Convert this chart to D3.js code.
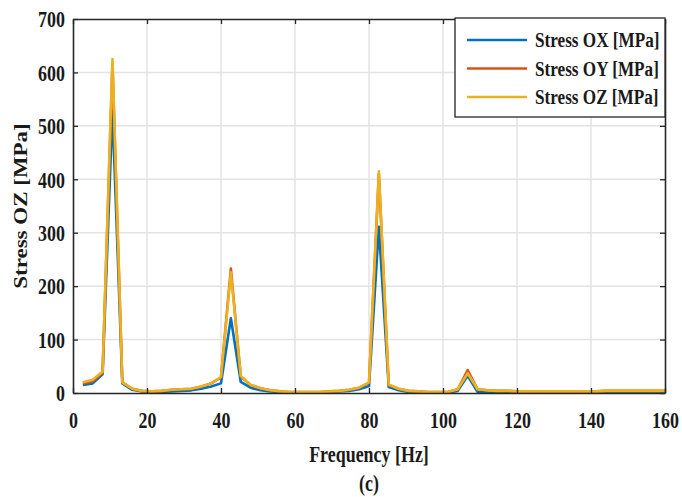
<!DOCTYPE html>
<html>
<head>
<meta charset="utf-8">
<script src="https://cdn.jsdelivr.net/npm/d3@7"></script>
<style>
html,body{margin:0;padding:0;background:#fff;}
svg{display:block;}
text{font-family:"Liberation Serif","Times New Roman",serif;font-weight:bold;fill:#1a1a1a;}
</style>
</head>
<body>
<svg id="chart" width="682" height="497"></svg>
<script>
// ---- data ----
const freqStep = 8 / 3; // Hz
const frequencies = d3.range(1, 61).map(k => k * freqStep);
const stressOX = [15,18,35,530,18,6,3,2,2,3,4,5,8,12,18,140,21,10,5,3,2,1.5,1.5,1.5,1.5,2,3,4,7,13,311,11,5,2,1.5,1,1,1,4,32,2,1,1,1,1,1,1,1,1,1,1,1,1,1.5,1.5,1.5,1.5,1.5,1.5,1.5];
const stressOY = [18,22,38,615,20,8,4,3,4,6,7,8,12,18,29,233,31,15,9,5,3,2,2,2,2,3,4,6,10,19,410,15,8,4,3,2,2,2,7,43,7,5,4,4,3,3,3,3,3,3,3,3,3,4,4,4,4,4,4,4];
const stressOZ = [20,25,40,625,20,8,4,3,4,6,7,8,12,18,30,226,32,15,9,5,3,2,2,2,2,3,4,6,10,20,415,16,8,4,3,2,2,2,7,37,7,5,4,4,3,3,3,3,3,3,3,3,3,4,4,4,4,4,4,4];
const seriesNames = ["Stress OX [MPa]","Stress OY [MPa]","Stress OZ [MPa]"];
const seriesColors = ["#0072BD","#D95319","#EDB120"];
const xTicks = [0,20,40,60,80,100,120,140,160];
const yTicks = [0,100,200,300,400,500,600,700];

// ---- layout ----
const svg = d3.select("#chart");
const L = 73, R = 665, T = 19, B = 393;
const SX = 0.78; // horizontal squeeze of the text
const FS = 23;
const x = d3.scaleLinear().domain([0,160]).range([L,R]);
const y = d3.scaleLinear().domain([0,700]).range([B,T]);

// grid
const grid = svg.append("g");
grid.selectAll("line.gx").data(xTicks.slice(1,-1)).join("line")
  .attr("x1", d => x(d)).attr("x2", d => x(d)).attr("y1", T).attr("y2", B)
  .attr("stroke", "#e3e3e3").attr("stroke-width", 1.5);
grid.selectAll("line.gy").data(yTicks.slice(1,-1)).join("line")
  .attr("y1", d => y(d)).attr("y2", d => y(d)).attr("x1", L).attr("x2", R)
  .attr("stroke", "#e3e3e3").attr("stroke-width", 1.5);

// lines
const line = d3.line().x(d => x(d[0])).y(d => y(d[1]));
[stressOX, stressOY, stressOZ].forEach((vals, i) => {
  svg.append("path")
    .datum(frequencies.map((f, j) => [f, vals[j]]))
    .attr("fill", "none")
    .attr("stroke", seriesColors[i])
    .attr("stroke-width", 2.6)
    .attr("stroke-linejoin", "round")
    .attr("d", line);
});

// axes (box with inward ticks)
function styleAxis(g) {
  g.select(".domain").attr("stroke", "#262626").attr("stroke-width", 1.6);
  g.selectAll(".tick line").attr("stroke", "#262626").attr("stroke-width", 1.3);
}
const axB = svg.append("g").attr("transform", `translate(0,${B})`)
  .call(d3.axisBottom(x).tickValues(xTicks).tickSize(-5).tickSizeOuter(0).tickFormat(d3.format("d")));
styleAxis(axB);
axB.selectAll("text").attr("font-size", FS).attr("font-family", null).attr("y", 0).attr("dy", 35)
  .attr("transform", `scale(${SX},1)`);
const axT = svg.append("g").attr("transform", `translate(0,${T})`)
  .call(d3.axisTop(x).tickValues(xTicks).tickSize(-5).tickSizeOuter(0).tickFormat(""));
styleAxis(axT);
const axLft = svg.append("g").attr("transform", `translate(${L},0)`)
  .call(d3.axisLeft(y).tickValues(yTicks).tickSize(-5).tickSizeOuter(0).tickFormat(d3.format("d")));
styleAxis(axLft);
axLft.selectAll("text").attr("font-size", FS).attr("font-family", null).attr("x", -8 / SX).attr("dy", "0.34em")
  .attr("transform", `scale(${SX},1)`);
const axRt = svg.append("g").attr("transform", `translate(${R},0)`)
  .call(d3.axisRight(y).tickValues(yTicks).tickSize(-5).tickSizeOuter(0).tickFormat(""));
styleAxis(axRt);

// axis titles
svg.append("text").attr("transform", `translate(369,462) scale(${SX},1)`)
  .attr("text-anchor", "middle").attr("font-size", FS).text("Frequency [Hz]");
svg.append("text").attr("transform", `translate(27,${(T+B)/2}) scale(${SX},1) rotate(-90)`)
  .attr("text-anchor", "middle").attr("font-size", FS).text("Stress OZ [MPa]");
svg.append("text").attr("transform", `translate(369,491) scale(${SX},1)`)
  .attr("text-anchor", "middle").attr("font-size", FS).attr("font-weight", "normal").text("(c)");

// legend
const lg = svg.append("g");
lg.append("rect").attr("x", 455).attr("y", 18).attr("width", 210).attr("height", 99)
  .attr("fill", "#fff").attr("stroke", "#262626").attr("stroke-width", 1.3);
seriesNames.forEach((name, i) => {
  const cy = 40 + i * 28.5;
  lg.append("line").attr("x1", 467).attr("x2", 527).attr("y1", cy).attr("y2", cy)
    .attr("stroke", seriesColors[i]).attr("stroke-width", 2.6);
  lg.append("text").attr("transform", `translate(535,${cy}) scale(${SX},1)`)
    .attr("dy", "0.34em").attr("font-size", 22).text(name);
});
</script>
</body>
</html>
